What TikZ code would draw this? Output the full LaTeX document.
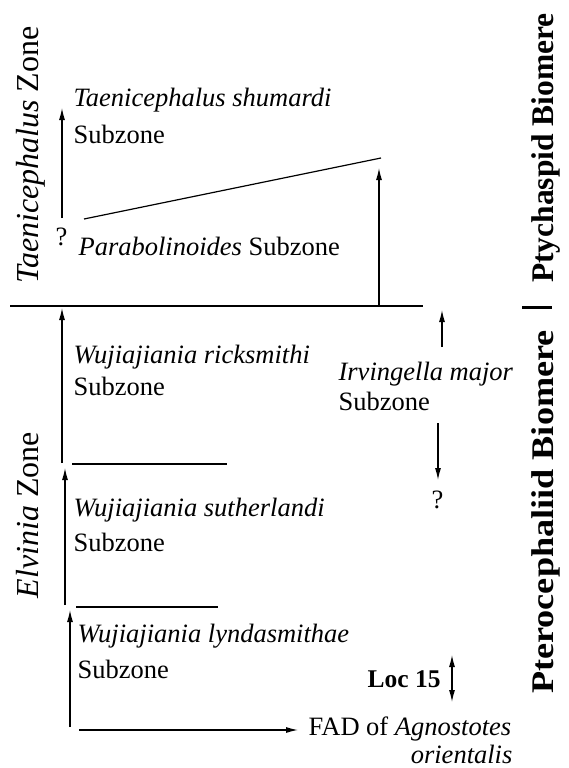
\documentclass[tikz,border=0pt]{standalone}
\usepackage{fontspec}
\setmainfont{Liberation Serif}
\usetikzlibrary{arrows.meta}

\tikzset{
  lbl/.style={anchor=base west, inner sep=0pt, font=\fontsize{26.5}{30}\selectfont},
  zonelbl/.style={rotate=90, anchor=base, inner sep=0pt, font=\fontsize{32}{36}\selectfont},
  biomelbl/.style={rotate=90, anchor=base, inner sep=0pt, font=\fontsize{31.5}{36}\selectfont\bfseries},
  up/.style={-{Latex[length=12pt,width=6pt]}},
}

\begin{document}
\begin{tikzpicture}[x=1pt,y=-1pt,line width=1.2pt]
\useasboundingbox (0,0) rectangle (568,768);
% zones and biomeres
\node[zonelbl] (taezone) at (38,155) {\textit{Taenicephalus} Zone};
\node[zonelbl] (elvzone) at (38,515) {\textit{Elvinia} Zone};
\node[biomelbl] (ptych) at (553,148) {Ptychaspid Biomere};
\node[biomelbl] (ptero) at (553,512) {\scalebox{1.15}[1]{Pterocephaliid Biomere}};
\draw[line width=3pt] (522,307) -- (552,307);
% Taenicephalus Zone
\node[lbl] (shum) at (73,106) {\textit{Taenicephalus shumardi}};
\node[lbl] (shumsub) at (73,143) {Subzone};
\node[lbl] (q1) at (55,245) {?};
\draw[up] (62,218) -- (62,108);
\draw (84,219) -- (381,158);
\draw[up] (379,306) -- (379,168);
\node[lbl] (para) at (78,255) {\textit{Parabolinoides} Subzone};
\draw (10,306) -- (423,306);
% Elvinia Zone
\draw[up] (62,463) -- (62,308);
\node[lbl] (ricks) at (73,363) {\textit{Wujiajiania ricksmithi}};
\node[lbl] (rickssub) at (73,395) {Subzone};
\draw (72,464) -- (227,464);
\draw[up] (65,605) -- (65,468);
\node[lbl] (suth) at (73,516) {\textit{Wujiajiania sutherlandi}};
\node[lbl] (suthsub) at (73,551) {Subzone};
\draw (76,607) -- (218,607);
\draw[up] (70,727) -- (70,610);
\node[lbl] (lynd) at (77,642) {\textit{Wujiajiania lyndasmithae}};
\node[lbl] (lyndsub) at (77,678) {Subzone};
% Irvingella major
\draw[up] (442,347) -- (442,310);
\node[lbl] (irv) at (338,380) {\textit{Irvingella major}};
\node[lbl] (irvsub) at (338,410) {Subzone};
\draw[up] (438,423) -- (438,480);
\node[lbl] (q2) at (431,508) {?};
% base
\node[lbl,font=\fontsize{25.5}{30}\selectfont\bfseries] (loc) at (367,687) {Loc 15};
\draw[{Latex[length=12pt,width=6pt]}-{Latex[length=12pt,width=6pt]}] (452,655) -- (452,702);
\draw[up] (79,730) -- (298,730);
\node[lbl] (fad) at (308,735) {FAD of \textit{Agnostotes}};
\node[lbl,anchor=base east,text depth=0pt] (orient) at (513,763) {\textit{orientalis}};
\end{tikzpicture}
\end{document}
